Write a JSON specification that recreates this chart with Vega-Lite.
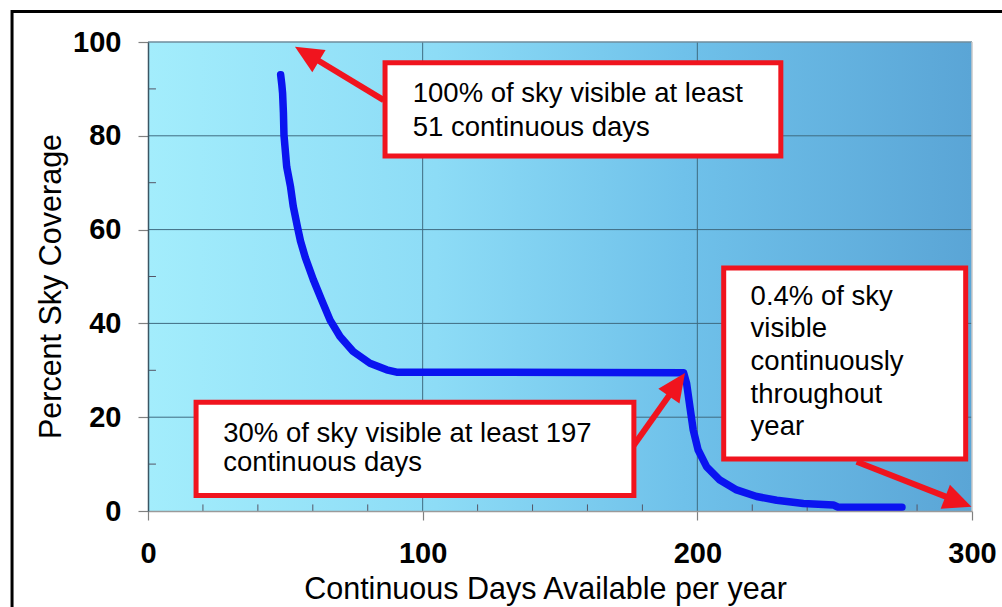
{
  "$schema": "https://vega.github.io/schema/vega-lite/v6.json",
  "autosize": "none",
  "width": 824,
  "height": 469,
  "padding": {"left": 148, "top": 42, "right": 30, "bottom": 96},
  "background": "white",
  "config": {"view": {"stroke": null}, "font": "Liberation Sans"},
  "datasets": {
    "curve": [
      {"days": 48.3, "pct": 93.0}, {"days": 48.7, "pct": 91.0}, {"days": 49.0, "pct": 89.1},
      {"days": 49.3, "pct": 85.0}, {"days": 49.5, "pct": 80.2}, {"days": 50.5, "pct": 73.4},
      {"days": 51.9, "pct": 69.1}, {"days": 52.9, "pct": 64.9}, {"days": 54.4, "pct": 60.6},
      {"days": 55.5, "pct": 57.6}, {"days": 57.3, "pct": 54.0}, {"days": 60.2, "pct": 49.3},
      {"days": 63.2, "pct": 45.0}, {"days": 66.3, "pct": 40.7}, {"days": 69.9, "pct": 37.2},
      {"days": 74.7, "pct": 34.0}, {"days": 80.8, "pct": 31.5}, {"days": 86.9, "pct": 30.1},
      {"days": 90.5, "pct": 29.6}, {"days": 195.0, "pct": 29.5}, {"days": 196.1, "pct": 27.2},
      {"days": 197.3, "pct": 22.2}, {"days": 198.5, "pct": 17.3}, {"days": 200.3, "pct": 13.0},
      {"days": 203.4, "pct": 9.4}, {"days": 208.2, "pct": 6.6}, {"days": 214.3, "pct": 4.5},
      {"days": 221.6, "pct": 3.1}, {"days": 228.9, "pct": 2.3}, {"days": 238.6, "pct": 1.6},
      {"days": 249.5, "pct": 1.3}, {"days": 251.3, "pct": 0.8}, {"days": 274.5, "pct": 0.8}
    ],
    "boxes": [
      {"x0": 86.3, "x1": 230.4, "y0": 95.6, "y1": 75.7},
      {"x0": 17.5, "x1": 176.9, "y0": 23.2, "y1": 3.3},
      {"x0": 209.6, "x1": 297.7, "y0": 51.8, "y1": 11.1}
    ],
    "texts": [
      {"tx": 96.4, "ty": 87.3, "label": "100% of sky visible at least"},
      {"tx": 96.4, "ty": 80.0, "label": "51 continuous days"},
      {"tx": 27.4, "ty": 14.8, "label": "30% of sky visible at least 197"},
      {"tx": 27.4, "ty": 8.5, "label": "continuous days"},
      {"tx": 219.4, "ty": 43.9, "label": "0.4% of sky"},
      {"tx": 219.4, "ty": 37.0, "label": "visible"},
      {"tx": 219.4, "ty": 30.1, "label": "continuously"},
      {"tx": 219.4, "ty": 23.1, "label": "throughout"},
      {"tx": 219.4, "ty": 16.2, "label": "year"}
    ],
    "shafts": [
      {"sx": 85.8, "sy": 87.6, "ex": 57.9, "ey": 97.5},
      {"sx": 176.1, "sy": 13.4, "ex": 192.5, "ey": 26.9},
      {"sx": 258.0, "sy": 10.5, "ex": 295.1, "ey": 2.0}
    ]
  },
  "layer": [
    {
      "data": {"values": [{"x0": 0, "x1": 300, "y0": 0, "y1": 100}]},
      "mark": {"type": "rect", "fill": {"gradient": "linear", "x1": 0, "y1": 0, "x2": 1, "y2": 0,
        "stops": [{"offset": 0, "color": "#a3edfc"}, {"offset": 0.35, "color": "#8ddcf6"}, {"offset": 0.65, "color": "#6fc1ea"}, {"offset": 1, "color": "#5aa5d6"}]}},
      "encoding": {
        "x": {"field": "x0", "type": "quantitative", "scale": {"domain": [0, 300], "nice": false},
          "axis": {"title": "Continuous Days Available per year", "values": [0, 100, 200, 300], "format": "d", "grid": false, "zindex": 2,
            "domainColor": "#9a9a9a", "domainWidth": 1.5, "tickColor": "#808080", "tickSize": 9, "tickWidth": 1.2,
            "labelFont": "Liberation Sans", "labelFontSize": 29, "labelFontWeight": "bold", "labelColor": "#000000",
            "labelPadding": 19, "labelFlush": false, "labelOverlap": false,
            "titleFont": "Liberation Sans", "titleFontSize": 30.5, "titleFontWeight": "normal", "titleColor": "#000000",
            "titleX": 397, "titleY": 87, "titleBaseline": "alphabetic", "titleAlign": "center"}},
        "x2": {"field": "x1"},
        "y": {"field": "y0", "type": "quantitative", "scale": {"domain": [0, 100], "nice": false},
          "axis": {"title": "Percent Sky Coverage", "values": [0, 20, 40, 60, 80, 100], "format": "d", "grid": false, "zindex": 2,
            "domainColor": "#3b5563", "domainWidth": 1.5, "tickColor": "#808080", "tickSize": 10, "tickWidth": 1.2,
            "labelFont": "Liberation Sans", "labelFontSize": 29, "labelFontWeight": "bold", "labelColor": "#000000",
            "labelPadding": 17, "labelOverlap": false, "labelFlush": false,
            "titleFont": "Liberation Sans", "titleFontSize": 30.5, "titleFontWeight": "normal", "titleColor": "#000000",
            "titleX": -97, "titleY": 244, "titleAngle": -90, "titleBaseline": "middle", "titleAlign": "center"}},
        "y2": {"field": "y1"}
      }
    },
    {
      "data": {"values": [{"gx": 100}, {"gx": 200}]},
      "mark": {"type": "rule", "color": "#3f6b80", "strokeWidth": 1},
      "encoding": {"x": {"field": "gx", "type": "quantitative", "scale": {"domain": [0, 300], "nice": false}}}
    },
    {
      "data": {"values": [{"gy": 20}, {"gy": 40}, {"gy": 60}, {"gy": 80}]},
      "mark": {"type": "rule", "color": "#3f6b80", "strokeWidth": 1},
      "encoding": {"y": {"field": "gy", "type": "quantitative", "scale": {"domain": [0, 100], "nice": false}}}
    },
    {
      "data": {"values": [{"gy": 100}]},
      "mark": {"type": "rule", "color": "#6f8c9c", "strokeWidth": 1.5},
      "encoding": {"y": {"field": "gy", "type": "quantitative", "scale": {"domain": [0, 100], "nice": false}}}
    },
    {
      "data": {"values": [{"gx": 300}]},
      "mark": {"type": "rule", "color": "#c9c9c9", "strokeWidth": 1.5},
      "encoding": {"x": {"field": "gx", "type": "quantitative", "scale": {"domain": [0, 300], "nice": false}}}
    },
    {
      "data": {"values": [{"m": 10, "m0": 0, "m1": 2.9}, {"m": 30, "m0": 0, "m1": 2.9}, {"m": 50, "m0": 0, "m1": 2.9}, {"m": 70, "m0": 0, "m1": 2.9}, {"m": 90, "m0": 0, "m1": 2.9}]},
      "mark": {"type": "rule", "color": "#556", "strokeWidth": 1},
      "encoding": {
        "x": {"field": "m0", "type": "quantitative", "scale": {"domain": [0, 300], "nice": false}},
        "x2": {"field": "m1"},
        "y": {"field": "m", "type": "quantitative", "scale": {"domain": [0, 100], "nice": false}}
      }
    },
    {
      "data": {"values": [{"m": 20, "m0": 0, "m1": 1.4}, {"m": 40, "m0": 0, "m1": 1.4}, {"m": 60, "m0": 0, "m1": 1.4}, {"m": 80, "m0": 0, "m1": 1.4}, {"m": 120, "m0": 0, "m1": 1.4}, {"m": 140, "m0": 0, "m1": 1.4}, {"m": 160, "m0": 0, "m1": 1.4}, {"m": 180, "m0": 0, "m1": 1.4}, {"m": 220, "m0": 0, "m1": 1.4}, {"m": 240, "m0": 0, "m1": 1.4}, {"m": 260, "m0": 0, "m1": 1.4}, {"m": 280, "m0": 0, "m1": 1.4}]},
      "mark": {"type": "rule", "color": "#556", "strokeWidth": 1},
      "encoding": {
        "x": {"field": "m", "type": "quantitative", "scale": {"domain": [0, 300], "nice": false}},
        "y": {"field": "m0", "type": "quantitative", "scale": {"domain": [0, 100], "nice": false}},
        "y2": {"field": "m1"}
      }
    },
    {
      "data": {"name": "curve"},
      "mark": {"type": "line", "color": "#0a14f0", "strokeWidth": 7.5, "strokeCap": "round", "strokeJoin": "round"},
      "encoding": {
        "x": {"field": "days", "type": "quantitative", "scale": {"domain": [0, 300], "nice": false}},
        "y": {"field": "pct", "type": "quantitative", "scale": {"domain": [0, 100], "nice": false}}
      }
    },
    {
      "data": {"name": "shafts"},
      "mark": {"type": "rule", "color": "#f0141e", "strokeWidth": 6},
      "encoding": {
        "x": {"field": "sx", "type": "quantitative", "scale": {"domain": [0, 300], "nice": false}},
        "x2": {"field": "ex"},
        "y": {"field": "sy", "type": "quantitative", "scale": {"domain": [0, 100], "nice": false}},
        "y2": {"field": "ey"}
      }
    },
    {
      "data": {"values": [{"hx": 53.5, "hy": 99.0}]},
      "mark": {"type": "point", "shape": "M0,0 L0.46,1 L-0.46,1 Z", "size": 3136, "filled": true, "color": "#f0141e", "opacity": 1, "angle": 301},
      "encoding": {
        "x": {"field": "hx", "type": "quantitative", "scale": {"domain": [0, 300], "nice": false}},
        "y": {"field": "hy", "type": "quantitative", "scale": {"domain": [0, 100], "nice": false}}
      }
    },
    {
      "data": {"values": [{"hx": 195.5, "hy": 29.4}]},
      "mark": {"type": "point", "shape": "M0,0 L0.46,1 L-0.46,1 Z", "size": 3136, "filled": true, "color": "#f0141e", "opacity": 1, "angle": 35},
      "encoding": {
        "x": {"field": "hx", "type": "quantitative", "scale": {"domain": [0, 300], "nice": false}},
        "y": {"field": "hy", "type": "quantitative", "scale": {"domain": [0, 100], "nice": false}}
      }
    },
    {
      "data": {"values": [{"hx": 299.8, "hy": 0.9}]},
      "mark": {"type": "point", "shape": "M0,0 L0.46,1 L-0.46,1 Z", "size": 3136, "filled": true, "color": "#f0141e", "opacity": 1, "angle": 111},
      "encoding": {
        "x": {"field": "hx", "type": "quantitative", "scale": {"domain": [0, 300], "nice": false}},
        "y": {"field": "hy", "type": "quantitative", "scale": {"domain": [0, 100], "nice": false}}
      }
    },
    {
      "data": {"name": "boxes"},
      "mark": {"type": "rect", "fill": "#ffffff", "stroke": "#f0141e", "strokeWidth": 5},
      "encoding": {
        "x": {"field": "x0", "type": "quantitative", "scale": {"domain": [0, 300], "nice": false}},
        "x2": {"field": "x1"},
        "y": {"field": "y0", "type": "quantitative", "scale": {"domain": [0, 100], "nice": false}},
        "y2": {"field": "y1"}
      }
    },
    {
      "data": {"name": "texts"},
      "mark": {"type": "text", "align": "left", "baseline": "alphabetic", "font": "Liberation Sans", "fontSize": 27.5, "color": "#000000"},
      "encoding": {
        "x": {"field": "tx", "type": "quantitative", "scale": {"domain": [0, 300], "nice": false}},
        "y": {"field": "ty", "type": "quantitative", "scale": {"domain": [0, 100], "nice": false}},
        "text": {"field": "label"}
      }
    },
    {
      "data": {"values": [{"fx0": -49.5, "fx1": 330, "fy0": 106.5, "fy1": -30}]},
      "mark": {"type": "rect", "filled": false, "stroke": "#000000", "strokeWidth": 3},
      "encoding": {
        "x": {"field": "fx0", "type": "quantitative", "scale": {"domain": [0, 300], "nice": false}},
        "x2": {"field": "fx1"},
        "y": {"field": "fy0", "type": "quantitative", "scale": {"domain": [0, 100], "nice": false}},
        "y2": {"field": "fy1"}
      }
    }
  ]
}
